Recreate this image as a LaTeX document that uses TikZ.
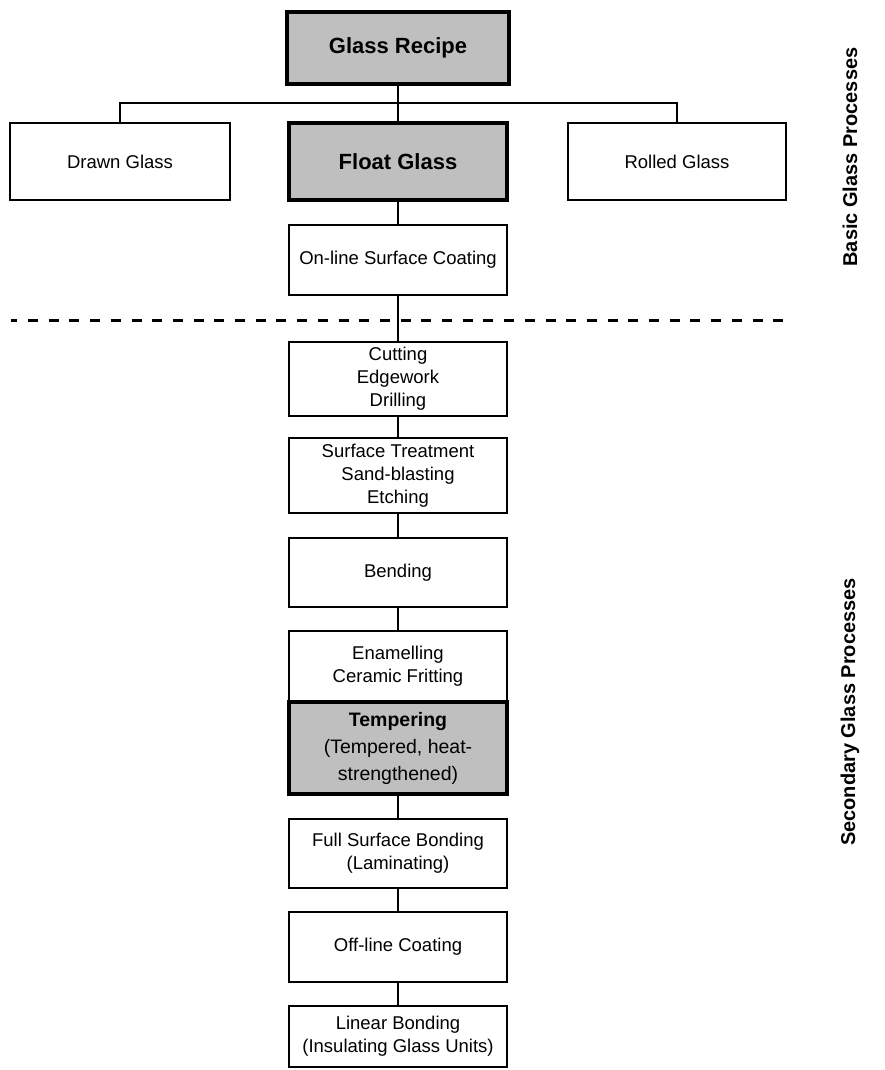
\documentclass[tikz,border=0pt]{standalone}
\usepackage{fontspec}
\setmainfont{Liberation Sans}
\usepackage{tikz}
\usetikzlibrary{arrows}

\begin{document}
\begin{tikzpicture}[x=1pt,y=-1pt,
    box/.style={draw,line width=2pt,minimum width=218pt,minimum height=74pt,
      inner sep=2pt,align=center,font=\fontsize{18.5}{23}\selectfont},
    keybox/.style={box,fill=black!25,line width=4pt},
    link/.style={-,line width=2pt},
    side/.style={rotate=90,font=\bfseries\fontsize{20}{24}\selectfont}]
        \useasboundingbox (0,0) rectangle (885,1070);

        \node[keybox,minimum width=222pt,minimum height=72pt,font=\bfseries\fontsize{22}{26}\selectfont] (recipe) at (398,48) {Glass Recipe};
        \node[box,minimum width=220pt,minimum height=77pt] (drawn) at (120,161.5) {Drawn Glass};
        \node[keybox,minimum height=77pt,font=\bfseries\fontsize{22}{26}\selectfont] (float) at (398,161.5) {Float Glass};
        \node[box,minimum width=218pt,minimum height=77pt] (rolled) at (677,161.5) {Rolled Glass};
        \node[box,minimum height=70pt] (online) at (398,260) {On-line Surface Coating};

        \coordinate (bus) at (398,103);
        \draw[link] (recipe) to (float);
        \draw[link] (drawn.north) |- (bus) -| (rolled.north);
        \draw[link] (float) to (online);

        % boundary between basic and secondary processes
        \coordinate (sepL) at (11,320);
        \coordinate (sepR) at (785,320);
        \draw[line width=3pt,dash pattern=on 10pt off 10.7pt,dash phase=3.7pt] (sepL) -- (sepR);

        \node[box] (cutting) at (398,378.5) {Cutting\\Edgework\\Drilling};
        \node[box,minimum height=75pt] (surface) at (398,475.5) {Surface Treatment\\Sand-blasting\\Etching};
        \node[box,minimum height=69pt] (bending) at (398,572.5) {Bending};
        \node[box,minimum height=71pt] (enamel) at (398,666.5) {Enamelling\\Ceramic Fritting};
        \node[keybox,minimum height=92pt,font=\fontsize{19.5}{27}\selectfont] (temper) at (398,748) {{\bfseries Tempering}\\(Tempered, heat-\\strengthened)};
        \node[box,minimum height=69pt] (laminate) at (398,853.5) {Full Surface Bonding\\(Laminating)};
        \node[box,minimum height=70pt] (offline) at (398,947) {Off-line Coating};
        \node[box,minimum height=61pt] (linear) at (398,1036.5) {Linear Bonding\\(Insulating Glass Units)};

        \draw[link] (online) to (cutting);
        \draw[link] (cutting) to (surface);
        \draw[link] (surface) to (bending);
        \draw[link] (bending) to (enamel);
        \draw[link] (temper) to (laminate);
        \draw[link] (laminate) to (offline);
        \draw[link] (offline) to (linear);

        \node[side] (basic) at (850,157) {Basic Glass Processes};
        \node[side] (second) at (850,712) {Secondary Glass Processes};
\end{tikzpicture}
\end{document}
